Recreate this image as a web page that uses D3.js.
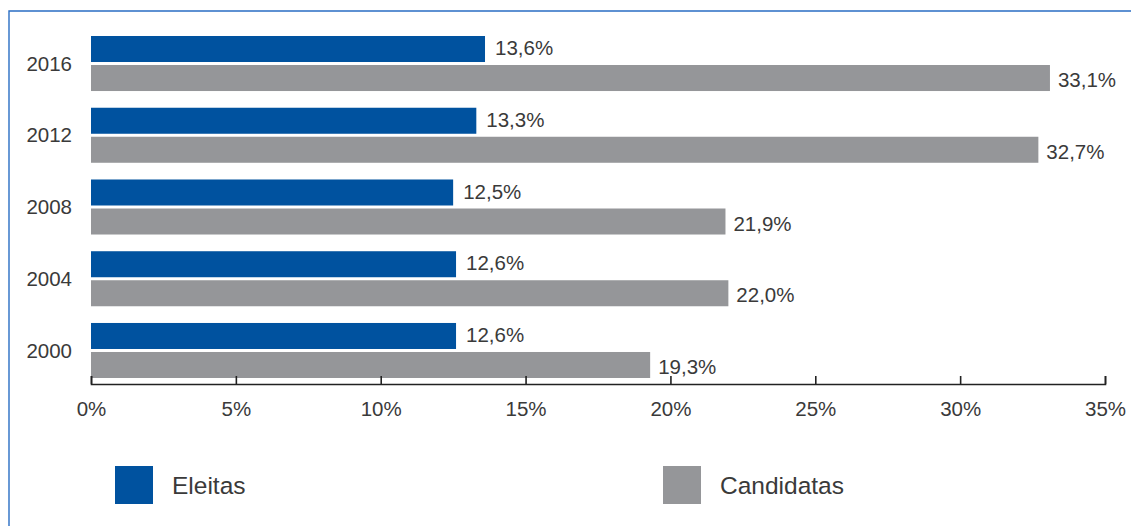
<!DOCTYPE html>
<html>
<head>
<meta charset="utf-8">
<script src="https://cdn.jsdelivr.net/npm/d3@7"></script>
<style>
  html, body { margin: 0; padding: 0; background: #fff; }
  svg { display: block; font-family: "Liberation Sans", Arial, sans-serif; }
</style>
</head>
<body>
<svg id="chart" width="1131" height="526"></svg>
<script>
// Years, top to bottom
const years = ["2016", "2012", "2008", "2004", "2000"];
const seriesNames = ["Eleitas", "Candidatas"];
// Share of women (%) among elected and among candidates
const eleitas    = [13.6, 13.3, 12.5, 12.6, 12.6];
const candidatas = [33.1, 32.7, 21.9, 22.0, 19.3];
const tickValues = [0, 5, 10, 15, 20, 25, 30, 35];

const colors = { Eleitas: "#00529f", Candidatas: "#959699" };
const textColor = "#3a3a3a";
const fontSize = 20.5;

const svg = d3.select("#chart");

// Frame: thin blue rule across the top and down the left side
svg.append("path")
  .attr("d", "M9,526V11H1131")
  .attr("fill", "none")
  .attr("stroke", "#2a6ec4")
  .attr("stroke-width", 1.4);

const x = d3.scaleLinear().domain([0, 35]).range([91, 1105]);

const y = d3.scaleBand()
  .domain(years)
  .range([36, 378])
  .paddingInner(0.233)
  .paddingOuter(0);

const ySub = d3.scaleBand()
  .domain(seriesNames)
  .range([0, y.bandwidth()])
  .paddingInner(0.1034)
  .paddingOuter(0);

const rows = years.map((yr, i) => ({
  year: yr,
  values: [
    { series: "Eleitas", value: eleitas[i] },
    { series: "Candidatas", value: candidatas[i] }
  ]
}));

const groups = svg.append("g").selectAll("g")
  .data(rows)
  .join("g")
  .attr("transform", d => `translate(0,${y(d.year)})`);

groups.selectAll("rect")
  .data(d => d.values)
  .join("rect")
  .attr("x", x(0))
  .attr("y", d => ySub(d.series))
  .attr("width", d => x(d.value) - x(0))
  .attr("height", ySub.bandwidth())
  .attr("fill", d => colors[d.series]);

// Value labels just past the end of each bar
const fmt = v => d3.format(".1f")(v).replace(".", ",") + "%";
groups.selectAll("text.val")
  .data(d => d.values)
  .join("text")
  .attr("class", "val")
  .attr("x", d => x(d.value) + (d.series === "Eleitas" ? 10 : 8))
  .attr("y", d => ySub(d.series) + ySub.bandwidth() / 2 + (d.series === "Eleitas" ? -1 : 2))
  .attr("dy", "0.35em")
  .attr("fill", textColor)
  .attr("font-size", fontSize)
  .text(d => fmt(d.value));

// Year labels
groups.append("text")
  .attr("x", 72)
  .attr("y", y.bandwidth() / 2)
  .attr("dy", "0.35em")
  .attr("text-anchor", "end")
  .attr("fill", textColor)
  .attr("font-size", fontSize)
  .text(d => d.year);

// Bottom axis with ticks pointing up
const axis = d3.axisBottom(x)
  .tickValues(tickValues)
  .tickSizeInner(-8)
  .tickSizeOuter(-8)
  .tickPadding(17)
  .tickFormat(d => d + "%");

const gAxis = svg.append("g")
  .attr("transform", "translate(0,384)")
  .call(axis);
gAxis.select(".domain").attr("stroke", "#222").attr("stroke-width", 1.6);
gAxis.selectAll(".tick line").attr("stroke", "#222").attr("stroke-width", 1.6);
gAxis.selectAll(".tick text")
  .attr("fill", textColor)
  .attr("font-size", fontSize)
  .attr("font-family", "'Liberation Sans', Arial, sans-serif");

// Legend
const legendItems = [
  { name: "Eleitas", x: 115 },
  { name: "Candidatas", x: 663 }
];
const legend = svg.append("g").selectAll("g")
  .data(legendItems)
  .join("g")
  .attr("transform", d => `translate(${d.x},466)`);
legend.append("rect")
  .attr("width", 38)
  .attr("height", 38)
  .attr("fill", d => colors[d.name]);
legend.append("text")
  .attr("x", 57)
  .attr("y", 19)
  .attr("dy", "0.35em")
  .attr("fill", textColor)
  .attr("font-size", 24.5)
  .text(d => d.name);
</script>
</body>
</html>
